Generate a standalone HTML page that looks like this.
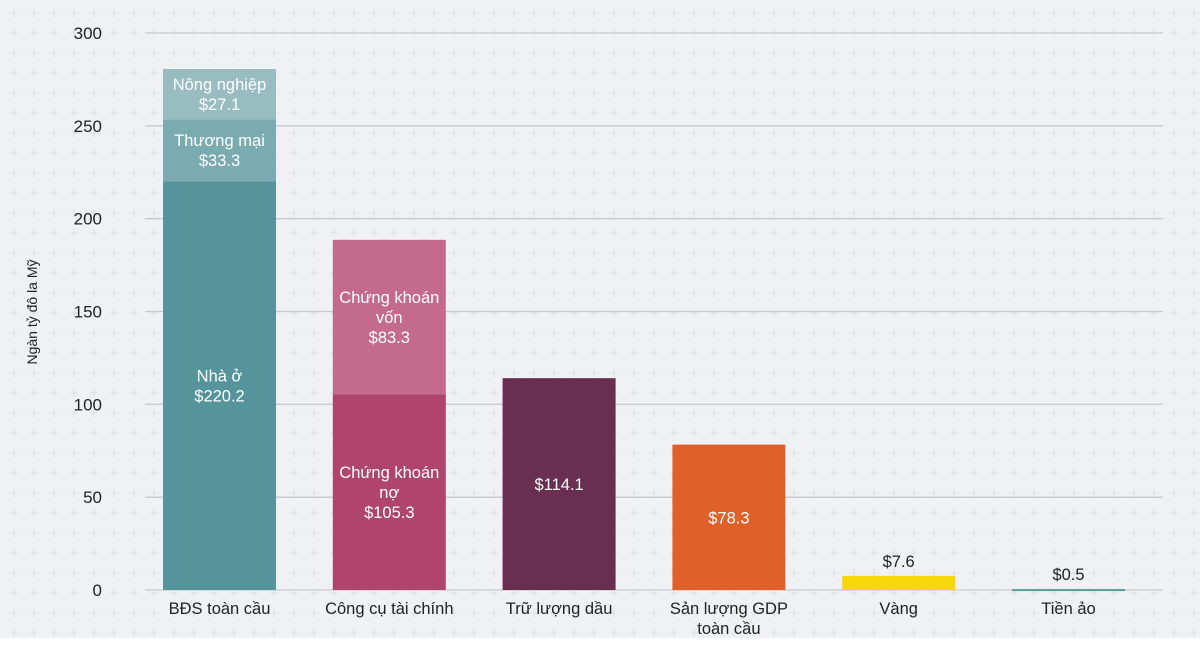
<!DOCTYPE html>
<html><head><meta charset="utf-8"><style>
body{margin:0;width:1200px;height:648px;background:#fff;overflow:hidden;font-family:"Liberation Sans",sans-serif}
</style></head><body>
<svg id="c" width="1200" height="648" xmlns="http://www.w3.org/2000/svg">
<defs><pattern id="plus" width="20" height="20" patternUnits="userSpaceOnUse" x="4" y="3">
<path d="M6 10h8M10 6v8" stroke="#dcdee3" stroke-width="1"/></pattern></defs>
<rect x="0" y="0" width="1200" height="638" fill="#eff1f4"/>
<rect x="0" y="0" width="1200" height="638" fill="url(#plus)"/>
<text transform="translate(37,312) rotate(-90)" text-anchor="middle" font-size="14" fill="#222">Ngàn tỷ đô la Mỹ</text>
<g id="grid"></g><g id="bars"></g>
</svg>
<script>
const categories=["BĐS toàn cầu","Công cụ tài chính","Trữ lượng dầu","Sản lượng GDP|toàn cầu","Vàng","Tiền ảo"];
const seg1Values=[220.2,105.3,114.1,78.3,7.6,0.5];
const seg2Values=[33.3,83.3,0,0,0,0];
const seg3Values=[27.1,0,0,0,0,0];
const seg1Labels=["Nhà ở|$220.2","Chứng khoán|nợ|$105.3","$114.1","$78.3","$7.6","$0.5"];
const seg2Labels=["Thương mại|$33.3","Chứng khoán|vốn|$83.3","","","",""];
const seg3Labels=["Nông nghiệp|$27.1","","","","",""];
const yTicks=[0,50,100,150,200,250,300];
const c1=["#55949b","#b0456c","#682f50","#e0602a","#f6d80a","#5d9a9c"];
const c2=["#7aabb0","#c36a8d","","","",""];
const c3=["#98bcc0","","","","",""];
const NS="http://www.w3.org/2000/svg";
const y=v=>590-v*557/300;
const x=i=>163+i*169.8;
const W=113;
function el(t,a,p){const e=document.createElementNS(NS,t);for(const k in a)e.setAttribute(k,a[k]);p.appendChild(e);return e;}
const grid=document.getElementById('grid'),bars=document.getElementById('bars');
yTicks.forEach(t=>{
 const l=el('line',{x1:145,x2:1163,y1:y(t),y2:y(t),stroke:'#c6c9ce','stroke-width':1.3},grid);
 
 
 const tx=el('text',{x:102,y:y(t)+6,'text-anchor':'end','font-size':17,fill:'#222'},grid);
 tx.textContent=t;
 
 
});
function multi(lines,cx,cy,fill,lh){
 const t=el('text',{'text-anchor':'middle','font-size':16.5,fill:fill},bars);
 lines.forEach((s,k)=>{const ts=el('tspan',{x:cx,y:cy+k*lh},t);ts.textContent=s;});
 return t;
}
categories.forEach((cat,i)=>{
 const segs=[[seg1Values[i],c1[i],seg1Labels[i]],[seg2Values[i],c2[i],seg2Labels[i]],[seg3Values[i],c3[i],seg3Labels[i]]];
 let base=0;
 segs.forEach((s,j)=>{
  if(!s[0])return;
  const top=base+s[0];
  const h=Math.max(y(base)-y(top),2);
  const r=el('rect',{x:x(i),y:y(top),width:W,height:h,fill:s[1]},bars);
  
  
  const lines=s[2].split('|');
  const cx=x(i)+W/2;
  let t;
  if(h>40){
   const lh=20;
   const cy=(y(top)+y(base))/2-(lines.length-1)*lh/2+6;
   t=multi(lines,cx,cy,'#fff',lh);
  } else {
   t=multi(lines,cx,y(top)-9,'#222',20);
  }
  
  
  base=top;
 });
 const t=multi(cat.split('|'),x(i)+W/2,614,'#222',20);
 
 
});
</script>
</body></html>
